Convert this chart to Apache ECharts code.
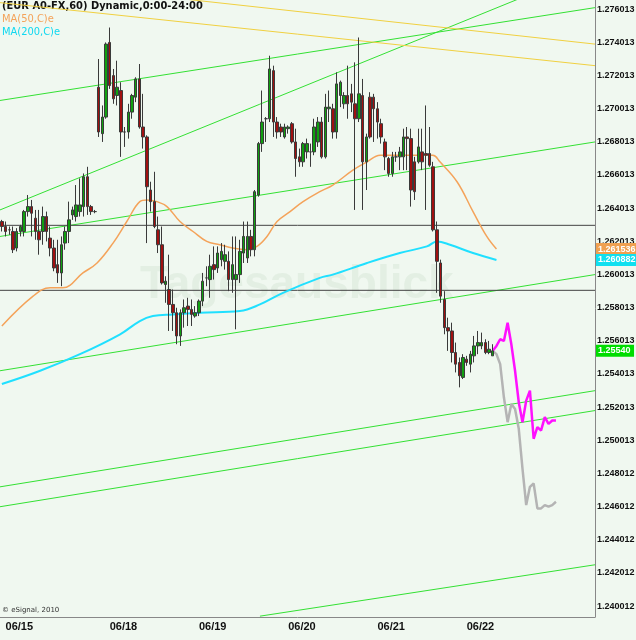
<!DOCTYPE html>
<html><head><meta charset="utf-8">
<script src="https://cdn.jsdelivr.net/npm/echarts@6/dist/echarts.min.js"></script>
<style>html,body{margin:0;padding:0;background:#f0f8f0}#c{width:636px;height:640px}</style>
</head><body><div id="c"></div>
<script>
// candles: [open, close, low, high]
const candles = [
[1.2632,1.2629,1.2626,1.2633],[1.2629,1.2626,1.2623,1.2632],[1.2627,1.2627,1.2624,1.2629],[1.2626,1.2615,1.2613,1.2629],
[1.2616,1.2626,1.2614,1.2628],[1.2626,1.2629,1.2623,1.2630],[1.2626,1.2638,1.2623,1.2639],[1.2638,1.2641,1.2635,1.2648],
[1.2641,1.2637,1.2623,1.2645],[1.2634,1.2626,1.2621,1.2639],[1.2626,1.2621,1.2612,1.2639],[1.2626,1.2635,1.2618,1.2641],
[1.2635,1.2626,1.2620,1.2638],[1.2622,1.2616,1.2611,1.2629],[1.2616,1.2604,1.2602,1.2621],[1.2606,1.2601,1.2595,1.2621],
[1.2601,1.2618,1.2593,1.2623],[1.2619,1.2626,1.2615,1.2629],[1.2626,1.2633,1.2619,1.2644],[1.2636,1.2639,1.2633,1.2641],
[1.2635,1.2642,1.2632,1.2654],[1.2638,1.2642,1.2635,1.2658],[1.2641,1.2659,1.2635,1.2661],[1.2659,1.2641,1.2636,1.2665],
[1.2641,1.2638,1.2636,1.2642],[1.2638,1.2638,1.2637,1.2639],
[1.2713,1.2686,1.2683,1.2730],[1.2685,1.2695,1.2680,1.2702],[1.2695,1.2739,1.2694,1.2740],[1.2740,1.2714,1.2712,1.2749],
[1.2720,1.2706,1.2703,1.2724],[1.2708,1.2713,1.2702,1.2729],[1.2711,1.2686,1.2671,1.2716],[1.2686,1.2686,1.2677,1.2689],
[1.2686,1.2698,1.2682,1.2703],[1.2698,1.2708,1.2694,1.2709],[1.2707,1.2718,1.2704,1.2719],[1.2718,1.2689,1.2688,1.2727],
[1.2689,1.2683,1.2676,1.2709],[1.2683,1.2653,1.2619,1.2684],[1.2651,1.2644,1.2638,1.2656],[1.2644,1.2629,1.2628,1.2662],
[1.2627,1.2618,1.2613,1.2635],[1.2618,1.2595,1.2594,1.2629],[1.2594,1.2596,1.2583,1.2599],[1.2591,1.2582,1.2566,1.2612],
[1.2582,1.2577,1.2566,1.2591],[1.2577,1.2563,1.2558,1.2580],[1.2563,1.2577,1.2557,1.2579],[1.2577,1.2580,1.2568,1.2585],
[1.2581,1.2579,1.2569,1.2586],[1.2579,1.2576,1.2569,1.2585],[1.2575,1.2577,1.2574,1.2581],[1.2577,1.2584,1.2575,1.2585],
[1.2584,1.2596,1.2581,1.2601],[1.2598,1.2598,1.2593,1.2605],[1.2597,1.2605,1.2586,1.2612],[1.2606,1.2603,1.2597,1.2617],
[1.2604,1.2613,1.2601,1.2617],[1.2609,1.2614,1.2605,1.2619],[1.2608,1.2612,1.2603,1.2618],[1.2608,1.2597,1.2590,1.2614],
[1.2597,1.2606,1.2589,1.2623],[1.2597,1.2600,1.2567,1.2623],[1.2600,1.2614,1.2595,1.2621],[1.2613,1.2623,1.2607,1.2632],
[1.2610,1.2623,1.2607,1.2632],[1.2623,1.2615,1.2611,1.2627],[1.2615,1.2650,1.2611,1.2651],[1.2648,1.2679,1.2647,1.2680],
[1.2679,1.2692,1.2674,1.2711],[1.2694,1.2694,1.2680,1.2695],[1.2694,1.2724,1.2692,1.2732],[1.2723,1.2692,1.2683,1.2726],
[1.2692,1.2686,1.2682,1.2695],[1.2689,1.2686,1.2683,1.2691],[1.2683,1.2689,1.2682,1.2691],[1.2688,1.2689,1.2685,1.2690],
[1.2691,1.2680,1.2679,1.2692],[1.2680,1.2670,1.2659,1.2688],[1.2671,1.2668,1.2665,1.2676],[1.2668,1.2679,1.2665,1.2680],
[1.2674,1.2679,1.2670,1.2682],[1.2674,1.2674,1.2665,1.2679],[1.2674,1.2689,1.2672,1.2694],[1.2680,1.2692,1.2677,1.2695],
[1.2692,1.2671,1.2670,1.2695],[1.2671,1.2701,1.2670,1.2709],[1.2700,1.2701,1.2692,1.2711],[1.2700,1.2686,1.2682,1.2703],
[1.2686,1.2715,1.2682,1.2722],[1.2708,1.2716,1.2701,1.2717],[1.2703,1.2708,1.2700,1.2710],[1.2708,1.2703,1.2694,1.2726],
[1.2709,1.2704,1.2698,1.2715],[1.2703,1.2694,1.2639,1.2728],[1.2694,1.2709,1.2692,1.2743],[1.2708,1.2668,1.2639,1.2718],
[1.2668,1.2683,1.2651,1.2685],[1.2707,1.2683,1.2682,1.2710],[1.2707,1.2700,1.2680,1.2709],[1.2700,1.2692,1.2682,1.2704],
[1.2691,1.2683,1.2679,1.2694],[1.2680,1.2671,1.2663,1.2682],[1.2670,1.2661,1.2659,1.2671],[1.2661,1.2671,1.2659,1.2674],
[1.2671,1.2671,1.2668,1.2674],[1.2671,1.2674,1.2663,1.2677],[1.2671,1.2683,1.2663,1.2688],[1.2683,1.2682,1.2663,1.2689],
[1.2682,1.2651,1.2641,1.2688],[1.2668,1.2650,1.2645,1.2671],[1.2668,1.2677,1.2667,1.2688],[1.2674,1.2668,1.2663,1.2688],
[1.2673,1.2672,1.2639,1.2702],[1.2673,1.2666,1.2665,1.2689],[1.2665,1.2627,1.2626,1.2668],[1.2627,1.2608,1.2589,1.2632],
[1.2607,1.2587,1.2583,1.2609],[1.2585,1.2568,1.2564,1.2590],[1.2568,1.2566,1.2554,1.2574],[1.2566,1.2553,1.2547,1.2571],
[1.2553,1.2546,1.2541,1.2559],[1.2547,1.2539,1.2532,1.2550],[1.2538,1.2550,1.2537,1.2552],[1.2549,1.2547,1.2545,1.2551],
[1.2546,1.2552,1.2541,1.2554],[1.2551,1.2557,1.2547,1.2563],[1.2557,1.2559,1.2552,1.2566],[1.2557,1.2559,1.2555,1.2565],
[1.2559,1.2553,1.2552,1.2561],[1.2553,1.2555,1.2552,1.2560],[1.2551,1.2554,1.2551,1.2558]
];
const barCount = 160;
const dayTickIdx = [1,29,53,77,101,125];
const dayLabels = ['06/15','06/18','06/19','06/20','06/21','06/22'];
const yTicks = [1.240012,1.242012,1.244012,1.246012,1.248012,1.250013,1.252013,1.254013,1.256013,1.258013,1.260013,1.262013,1.264013,1.266013,1.268013,1.270013,1.272013,1.274013,1.276013];
// [barIndex, price]
const ma50 = [[0,1.2569],[8.4,1.2587],[13,1.2592],[16.4,1.2592],[21.8,1.2601],[25.6,1.2607],[29.9,1.2619],[33.6,1.2632],[37.1,1.2644],[39,1.2645],[41.7,1.2644],[44.4,1.2641],[47.9,1.2632],[51.4,1.2626],[55.1,1.2620],[58.6,1.2618],[62.1,1.2616],[65.9,1.2615],[68.6,1.2617],[71.3,1.2623],[74,1.2632],[77.5,1.2638],[81,1.2644],[85.5,1.2650],[89,1.2654],[94.4,1.2663],[98.2,1.2668],[101.7,1.2672],[107,1.2672],[115.9,1.2672],[117.8,1.2668],[122.4,1.2656],[126.7,1.2638],[130.4,1.2623],[133,1.26154]];
const ma200 = [[0,1.2534],[10.3,1.2542],[21,1.2552],[31.8,1.2564],[37.1,1.2572],[40.6,1.2575],[46,1.2576],[53.3,1.2577],[64,1.2578],[69.4,1.2582],[75.6,1.2589],[85.5,1.2598],[89,1.2600],[98.2,1.2607],[107,1.2613],[114.3,1.2617],[117,1.2620],[120.5,1.2618],[126.7,1.2613],[133,1.26088]];
const projUp = [1.2554,1.2557,1.2561,1.2560,1.2571,1.2558,1.2542,1.2523,1.2511,1.2524,1.2530,1.2501,1.2508,1.2506,1.2514,1.2510,1.2512,1.2512];
const projDown = [1.2554,1.2552,1.2546,1.2526,1.2511,1.2522,1.2519,1.2507,1.2483,1.2461,1.2472,1.2474,1.2459,1.2459,1.2461,1.2460,1.2461,1.2463];
const projStart = 132;
const greenLines = [
 [[-0.5,1.2705],[159.5,1.2761]],[[-0.5,1.2639],[159.5,1.2785]],[[-0.5,1.2623],[159.5,1.2680]],
 [[-0.5,1.2542],[159.5,1.2600]],[[-0.5,1.2472],[159.5,1.2530]],[[-0.5,1.2460],[159.5,1.2518]],[[69.4,1.2394],[159.5,1.2425]]];
const yellowLines = [[[49.8,1.2766],[159.5,1.2739]],[[-0.5,1.2764],[159.5,1.2726]]];
const hLevels = [1.26297,1.25905];
const tagValues = [1.261536,1.260882,1.2554];
const tagTexts = ['1.261536','1.260882','1.25540 '];
const tagColors = ['#f0a050','#10e0f0','#00dd00'];

const FONT = "'Liberation Sans',sans-serif";
const cats = Array.from({length:barCount},(_,i)=>{const k=dayTickIdx.indexOf(i);return k>=0?dayLabels[k]:'';});
const series = [];
greenLines.forEach(l=>series.push({type:'line',xAxisIndex:1,data:l,symbol:'none',lineStyle:{color:'#33e033',width:1},silent:true,z:1}));
yellowLines.forEach(l=>series.push({type:'line',xAxisIndex:1,data:l,symbol:'none',lineStyle:{color:'#f0d040',width:1},silent:true,z:1}));
hLevels.forEach(v=>series.push({type:'line',xAxisIndex:1,data:[[-0.5,v],[159.5,v]],symbol:'none',lineStyle:{color:'#444',width:1},silent:true,z:1}));
series.push({type:'line',xAxisIndex:1,data:ma50,symbol:'none',smooth:0.4,lineStyle:{color:'#f4a35a',width:1.5},z:3});
series.push({type:'line',xAxisIndex:1,data:ma200,symbol:'none',smooth:0.4,lineStyle:{color:'#20e0ff',width:2},z:3});
series.push({type:'line',xAxisIndex:1,data:projDown.map((v,i)=>[projStart+i,v]),symbol:'none',lineStyle:{color:'#b4b4b4',width:2.5},z:4});
series.push({type:'line',xAxisIndex:1,data:projUp.map((v,i)=>[projStart+i,v]),symbol:'none',lineStyle:{color:'#ff10ff',width:2.5},z:5});
series.push({type:'candlestick',data:candles,barWidth:3,z:6,
  itemStyle:{color:'#10a010',color0:'#a01010',borderColor:'#3a3a3a',borderColor0:'#3a3a3a',borderWidth:1}});

const tagAxes = tagValues.map((v,k)=>({type:'value',position:'right',min:1.23935,max:1.27656,splitLine:{show:false},
  axisLine:{show:false,onZero:false},axisTick:{show:false},
  axisLabel:{customValues:[v],hideOverlap:false,margin:1,formatter:()=>tagTexts[k],
    color:'#fff',backgroundColor:tagColors[k],fontSize:9,fontWeight:'bold',fontFamily:FONT,padding:[2,1,1,2]}}));

const chart = echarts.init(document.getElementById('c'));
chart.setOption({
  backgroundColor:'#f0f8f0', animation:false,
  grid:{left:0,right:41,top:0,bottom:23,containLabel:false,outerBoundsMode:'none'},
  xAxis:[{type:'category',data:cats,boundaryGap:true,
    axisLine:{lineStyle:{color:'#888'}},
    axisTick:{interval:(i)=>dayTickIdx.includes(i),alignWithLabel:true,length:3,lineStyle:{color:'#444'}},
    axisLabel:{interval:(i)=>dayTickIdx.includes(i),align:'left',margin:4,color:'#111',fontSize:11,fontWeight:'bold',fontFamily:FONT}},
   {type:'value',min:-0.5,max:159.5,show:false}],
  yAxis:[{type:'value',position:'right',min:1.23935,max:1.27656,splitLine:{show:false},
    axisLine:{show:true,onZero:false,lineStyle:{color:'#888'}},axisTick:{show:false},
    axisLabel:{customValues:yTicks,formatter:v=>v.toFixed(6),hideOverlap:false,color:'#111',fontSize:9,fontWeight:'bold',fontFamily:FONT,margin:2}}
  ].concat(tagAxes),
  graphic:[
    {type:'text',left:140,top:262,z:0,style:{text:'Tagesausblick',fontSize:46,fontWeight:'bold',fontFamily:'Liberation Sans',fill:'rgba(160,190,160,0.16)'}},
    {type:'text',left:2,top:1,style:{text:'(EUR A0-FX,60) Dynamic,0:00-24:00',fontSize:11,fontWeight:'bold',fontFamily:'DejaVu Sans Condensed',fill:'#111'}},
    {type:'text',left:2,top:14,style:{text:'MA(50,C)e',fontSize:11,fontFamily:'DejaVu Sans Condensed',fill:'#f4a35a'}},
    {type:'text',left:2,top:27,style:{text:'MA(200,C)e',fontSize:11,fontFamily:'DejaVu Sans Condensed',fill:'#10d8f0'}},
    {type:'text',left:2,top:607,style:{text:'© eSignal, 2010',fontSize:7,fontFamily:'DejaVu Sans',fill:'#333'}}
  ],
  series
});
</script></body></html>
